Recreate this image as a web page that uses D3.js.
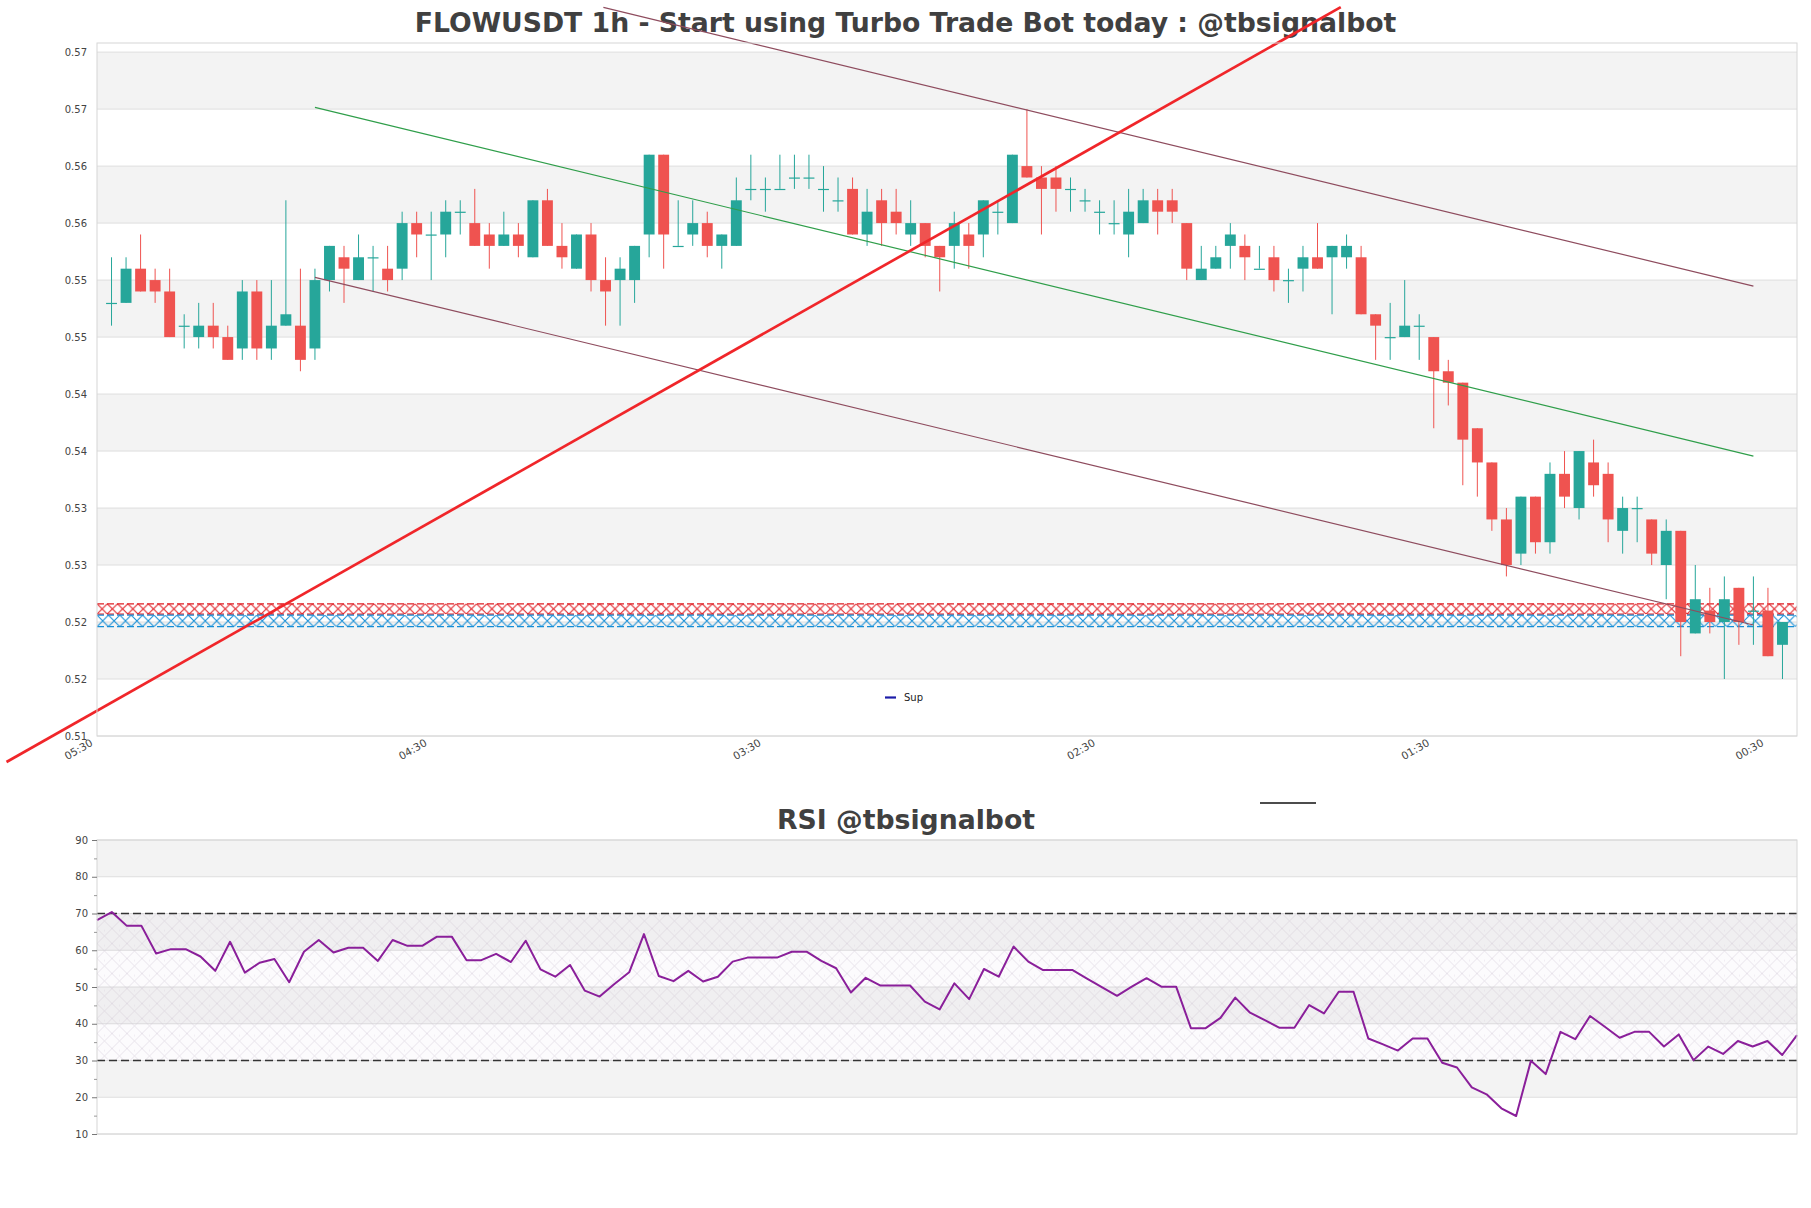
<!DOCTYPE html>
<html><head><meta charset="utf-8">
<script src="https://cdn.jsdelivr.net/npm/d3@7"></script>
<style>
body{margin:0;background:#fff}
svg{display:block}
text{font-family:"DejaVu Sans",sans-serif}
</style></head>
<body><svg id="c" width="1811" height="1208"></svg>
<script>
// ---------------- DATA ----------------
const opens = [0.548,0.548,0.551,0.550,0.549,0.546,0.545,0.546,0.545,0.544,
0.549,0.544,0.546,0.546,0.544,0.550,0.552,0.550,0.552,0.551,
0.551,0.555,0.554,0.554,0.556,0.555,0.554,0.553,0.554,0.552,
0.557,0.553,0.551,0.554,0.550,0.550,0.550,0.554,0.561,0.553,
0.554,0.555,0.553,0.553,0.558,0.558,0.558,0.559,0.559,0.558,
0.557,0.558,0.554,0.557,0.556,0.554,0.555,0.553,0.553,0.554,
0.554,0.556,0.555,0.560,0.559,0.559,0.558,0.557,0.556,0.555,
0.554,0.555,0.557,0.557,0.555,0.550,0.551,0.553,0.553,0.551,
0.552,0.550,0.551,0.552,0.552,0.552,0.552,0.547,0.545,0.545,
0.546,0.545,0.542,0.541,0.537,0.534,0.529,0.526,0.531,0.527,
0.533,0.530,0.534,0.533,0.528,0.530,0.529,0.525,0.528,0.519,
0.521,0.520,0.523,0.521,0.521,0.518];
const highs = [0.552,0.552,0.554,0.551,0.551,0.547,0.548,0.548,0.546,0.550,
0.550,0.550,0.557,0.551,0.551,0.553,0.553,0.554,0.553,0.553,
0.556,0.556,0.556,0.557,0.557,0.558,0.555,0.556,0.555,0.557,
0.558,0.555,0.554,0.555,0.552,0.552,0.553,0.561,0.561,0.557,
0.557,0.556,0.554,0.559,0.561,0.559,0.561,0.561,0.561,0.560,
0.559,0.559,0.558,0.558,0.558,0.557,0.555,0.553,0.556,0.555,
0.557,0.557,0.561,0.565,0.560,0.560,0.559,0.558,0.557,0.557,
0.558,0.558,0.558,0.558,0.555,0.553,0.553,0.555,0.554,0.553,
0.553,0.551,0.553,0.555,0.553,0.554,0.553,0.547,0.548,0.550,
0.547,0.545,0.543,0.541,0.537,0.534,0.530,0.531,0.531,0.534,
0.535,0.535,0.536,0.534,0.531,0.531,0.529,0.529,0.528,0.525,
0.523,0.524,0.523,0.524,0.523,0.520];
const lows = [0.546,0.548,0.549,0.548,0.545,0.544,0.544,0.544,0.543,0.543,
0.543,0.543,0.546,0.542,0.543,0.549,0.548,0.550,0.549,0.549,
0.550,0.552,0.550,0.552,0.554,0.553,0.551,0.553,0.552,0.552,
0.553,0.551,0.551,0.549,0.546,0.546,0.548,0.552,0.551,0.553,
0.553,0.552,0.551,0.553,0.557,0.556,0.558,0.558,0.558,0.556,
0.556,0.554,0.553,0.553,0.554,0.553,0.552,0.549,0.551,0.551,
0.552,0.554,0.555,0.559,0.554,0.556,0.556,0.556,0.554,0.554,
0.552,0.555,0.554,0.555,0.550,0.550,0.551,0.551,0.550,0.551,
0.549,0.548,0.549,0.551,0.547,0.551,0.547,0.543,0.543,0.545,
0.543,0.537,0.539,0.532,0.531,0.528,0.524,0.525,0.526,0.526,
0.530,0.529,0.531,0.527,0.526,0.527,0.525,0.522,0.517,0.519,
0.519,0.515,0.518,0.518,0.517,0.515];
const closes = [0.548,0.551,0.549,0.549,0.545,0.546,0.546,0.545,0.543,0.549,
0.544,0.546,0.547,0.543,0.550,0.553,0.551,0.552,0.552,0.550,
0.555,0.554,0.554,0.556,0.556,0.553,0.553,0.554,0.553,0.557,
0.553,0.552,0.554,0.550,0.549,0.551,0.553,0.561,0.554,0.553,
0.555,0.553,0.554,0.557,0.558,0.558,0.558,0.559,0.559,0.558,
0.557,0.554,0.556,0.555,0.555,0.555,0.553,0.552,0.555,0.553,
0.557,0.556,0.561,0.559,0.558,0.558,0.558,0.557,0.556,0.555,
0.556,0.557,0.556,0.556,0.551,0.551,0.552,0.554,0.552,0.551,
0.550,0.550,0.552,0.551,0.553,0.553,0.547,0.546,0.545,0.546,
0.546,0.542,0.541,0.536,0.534,0.529,0.525,0.531,0.527,0.533,
0.531,0.535,0.532,0.529,0.530,0.530,0.526,0.528,0.520,0.522,
0.520,0.522,0.520,0.521,0.517,0.520];

const rsi = [68.2,70.4,66.7,66.7,59.1,60.3,60.3,58.3,54.4,62.3,
53.9,56.6,57.6,51.3,59.6,62.8,59.4,60.7,60.7,57.1,
62.8,61.2,61.2,63.7,63.7,57.3,57.3,59.0,56.8,62.6,
54.8,52.8,56.0,49.0,47.4,50.8,54.0,64.4,53.0,51.6,
54.4,51.5,52.8,56.9,58.0,58.0,58.0,59.6,59.6,57.1,
55.1,48.5,52.5,50.4,50.4,50.4,46.0,43.9,51.0,46.7,
54.9,52.8,61.0,56.9,54.6,54.6,54.6,52.2,49.9,47.6,
50.1,52.4,50.1,50.1,38.8,38.8,41.6,47.1,43.0,41.0,
38.9,38.9,45.1,42.8,48.7,48.7,36.0,34.4,32.7,36.0,
36.0,29.4,28.1,22.7,20.8,17.0,14.9,29.9,26.3,37.8,
35.8,42.1,39.2,36.2,37.8,37.8,33.8,37.1,30.1,33.8,
31.8,35.3,33.8,35.3,31.5,36.9];

const yTickValues = [0.51,0.515,0.52,0.525,0.53,0.535,0.54,0.545,0.55,0.555,0.56,0.565,0.57];
const yTickLabels = ["0.51","0.52","0.52","0.53","0.53","0.54","0.54","0.55","0.55","0.56","0.56","0.57","0.57"];
const xTickIndex = [-1,22,45,68,91,114];
const xTickLabels = ["05:30","04:30","03:30","02:30","01:30","00:30"];
const rsiTickValues = [10,20,30,40,50,60,70,80,90];
const rsiMinorTicks = [15,25,35,45,55,65,75,85];

// trend lines: [x-index, price] endpoints
const redTrend   = [[-7.23,0.50772],[84.6,0.57395]];
const greenTrend = [[14,0.56515],[113,0.53456]];
const upperTrend = [[33.85,0.57392],[113,0.54947]];
const lowerTrend = [[14,0.55024],[113,0.51974]];
// zones [low, high]
const resistZone = [0.5207,0.5216];
const supportZone = [0.5196,0.5206];

const title1 = "FLOWUSDT 1h - Start using Turbo Trade Bot today : @tbsignalbot";
const title2 = "RSI @tbsignalbot";

// ---------------- LAYOUT ----------------
const svg = d3.select("#c");
const L = 97, Rt = 1797;
const P1 = {t:43, b:736};
const P2 = {t:840, b:1134};
const TEAL = "#26a69a", RED = "#ef5350";
const BAND = "#f3f3f3", GRID = "#dedede", SPINE = "#d6d6d6";

const x = d3.scaleLinear().domain([-1,116]).range([L,Rt]);
const y = d3.scaleLinear().domain([0.51,0.5708]).range([P1.b,P1.t]);
const xr = d3.scaleLinear().domain([0,115]).range([L,Rt]);
const yr = d3.scaleLinear().domain([10,90]).range([P2.b,P2.t]);

const defs = svg.append("defs");

// ---------- main chart ----------
svg.append("text").attr("x",905.5).attr("y",32).attr("text-anchor","middle")
  .attr("font-size",26.7).attr("font-weight","bold").attr("fill","#404040").text(title1);

const g1 = svg.append("g");
for(let i=0;i<yTickValues.length-1;i++){
  if(i%2===1){
    g1.append("rect").attr("x",L).attr("width",Rt-L)
      .attr("y",y(yTickValues[i+1])).attr("height",y(yTickValues[i])-y(yTickValues[i+1]))
      .attr("fill",BAND);
  }
}
g1.selectAll(".gl").data(yTickValues).join("line")
  .attr("x1",L).attr("x2",Rt).attr("y1",d=>y(d)).attr("y2",d=>y(d))
  .attr("stroke",GRID).attr("stroke-width",1);

function zone(id, z, color){
  const top = y(z[1]), bot = y(z[0]), h = bot-top;
  const p = defs.append("pattern").attr("id",id).attr("patternUnits","userSpaceOnUse")
    .attr("x",L).attr("y",top).attr("width",h).attr("height",h);
  p.append("path").attr("d",`M0,0L${h},${h}M0,${h}L${h},0`)
    .attr("stroke",color).attr("stroke-width",1.1).attr("fill","none");
  g1.append("rect").attr("x",L).attr("width",Rt-L).attr("y",top).attr("height",h)
    .attr("fill",`url(#${id})`);
  [top,bot].forEach(yy=>{
    g1.append("line").attr("x1",L).attr("x2",Rt).attr("y1",yy).attr("y2",yy)
      .attr("stroke",color).attr("stroke-width",1.2).attr("stroke-dasharray","7,3");
  });
}
zone("hr", resistZone, "#e01f25");
zone("hb", supportZone, "#168fd8");

const step = x(1)-x(0), bw = step*0.75;
const idx = d3.range(opens.length);
const cg = g1.append("g");
cg.selectAll(".wick").data(idx).join("line")
  .attr("x1",i=>x(i)).attr("x2",i=>x(i))
  .attr("y1",i=>y(highs[i])).attr("y2",i=>y(lows[i]))
  .attr("stroke",i=>closes[i]>=opens[i]?TEAL:RED).attr("stroke-width",1);
cg.selectAll(".body").data(idx).join("rect")
  .attr("x",i=>x(i)-bw/2).attr("width",bw)
  .attr("y",i=>y(Math.max(opens[i],closes[i])))
  .attr("height",i=>Math.max(1.2,Math.abs(y(opens[i])-y(closes[i]))))
  .attr("fill",i=>closes[i]>=opens[i]?TEAL:RED);

const tl = d3.line().x(d=>x(d[0])).y(d=>y(d[1]));
g1.append("path").attr("d",tl(greenTrend)).attr("stroke","#2f9e4a").attr("stroke-width",1.2).attr("fill","none");
g1.append("path").attr("d",tl(upperTrend)).attr("stroke","#8e4c5e").attr("stroke-width",1.2).attr("fill","none");
g1.append("path").attr("d",tl(lowerTrend)).attr("stroke","#8e4c5e").attr("stroke-width",1.2).attr("fill","none");
g1.append("path").attr("d",tl(redTrend)).attr("stroke","#f0262a").attr("stroke-width",2.7).attr("fill","none");

g1.append("rect").attr("x",L).attr("y",P1.t).attr("width",Rt-L).attr("height",P1.b-P1.t)
  .attr("fill","none").attr("stroke",SPINE);

const ya = svg.append("g").attr("transform",`translate(${L},0)`)
  .call(d3.axisLeft(y).tickValues(yTickValues).tickFormat((d,i)=>yTickLabels[i]).tickSize(0).tickPadding(10));
ya.select(".domain").remove();
ya.selectAll("text").attr("font-size",10).attr("fill","#444").attr("font-family","DejaVu Sans");

const xa = svg.append("g").attr("transform",`translate(0,${P1.b})`)
  .call(d3.axisBottom(x).tickValues(xTickIndex).tickFormat((d,i)=>xTickLabels[i]).tickSize(0));
xa.select(".domain").remove();
xa.selectAll("text").attr("font-size",10.5).attr("fill","#444").attr("font-family","DejaVu Sans")
  .attr("text-anchor","end").attr("dy",null).attr("y",null)
  .attr("transform","translate(-4,9) rotate(-30)");

svg.append("line").attr("x1",885).attr("x2",896).attr("y1",697.5).attr("y2",697.5)
  .attr("stroke","#1c1ca8").attr("stroke-width",2.2);
svg.append("text").attr("x",904).attr("y",701).attr("font-size",10).attr("fill","#222").text("Sup");

// ---------- RSI chart ----------
svg.append("text").attr("x",906).attr("y",829).attr("text-anchor","middle")
  .attr("font-size",26.7).attr("font-weight","bold").attr("fill","#404040").text(title2);
svg.append("line").attr("x1",1260).attr("x2",1316).attr("y1",803).attr("y2",803)
  .attr("stroke","#111").attr("stroke-width",1.3);

const g2 = svg.append("g");
for(let i=0;i<rsiTickValues.length-1;i++){
  if(i%2===1){
    g2.append("rect").attr("x",L).attr("width",Rt-L)
      .attr("y",yr(rsiTickValues[i+1])).attr("height",yr(rsiTickValues[i])-yr(rsiTickValues[i+1]))
      .attr("fill",BAND);
  }
}
g2.selectAll(".gl").data(rsiTickValues).join("line")
  .attr("x1",L).attr("x2",Rt).attr("y1",d=>yr(d)).attr("y2",d=>yr(d))
  .attr("stroke",GRID).attr("stroke-width",1);

const rp = defs.append("pattern").attr("id","rh").attr("patternUnits","userSpaceOnUse")
  .attr("x",L).attr("y",yr(70)).attr("width",15).attr("height",15);
rp.append("path").attr("d","M0,0L15,15M0,15L15,0").attr("stroke","#cdc3d2").attr("stroke-width",0.6).attr("fill","none");
rp.append("circle").attr("cx",7.5).attr("cy",2).attr("r",0.6).attr("fill","#d6cdda");
g2.append("rect").attr("x",L).attr("width",Rt-L).attr("y",yr(70)).attr("height",yr(30)-yr(70))
  .attr("fill","#7b2d8b").attr("fill-opacity",0.02);
g2.append("rect").attr("x",L).attr("width",Rt-L).attr("y",yr(70)).attr("height",yr(30)-yr(70))
  .attr("fill","url(#rh)").attr("opacity",0.7);

[70,30].forEach(v=>{
  g2.append("line").attr("x1",L).attr("x2",Rt).attr("y1",yr(v)).attr("y2",yr(v))
    .attr("stroke","#333").attr("stroke-width",1.3).attr("stroke-dasharray","8,4");
});

g2.append("path").datum(rsi)
  .attr("d",d3.line().x((d,i)=>xr(i)).y(d=>yr(d)))
  .attr("fill","none").attr("stroke","#8a1f9a").attr("stroke-width",2).attr("stroke-linejoin","round");

g2.append("rect").attr("x",L).attr("y",P2.t).attr("width",Rt-L).attr("height",P2.b-P2.t)
  .attr("fill","none").attr("stroke",SPINE);

const ra = svg.append("g").attr("transform",`translate(${L},0)`)
  .call(d3.axisLeft(yr).tickValues(rsiTickValues).tickFormat(d3.format("d")).tickSize(5).tickPadding(4));
ra.select(".domain").remove();
ra.selectAll("line").attr("stroke","#777");
ra.selectAll("text").attr("font-size",10).attr("fill","#444").attr("font-family","DejaVu Sans");
const rm = svg.append("g").attr("transform",`translate(${L},0)`)
  .call(d3.axisLeft(yr).tickValues(rsiMinorTicks).tickFormat("").tickSize(3));
rm.select(".domain").remove();
rm.selectAll("line").attr("stroke","#999");
</script>
</body></html>
